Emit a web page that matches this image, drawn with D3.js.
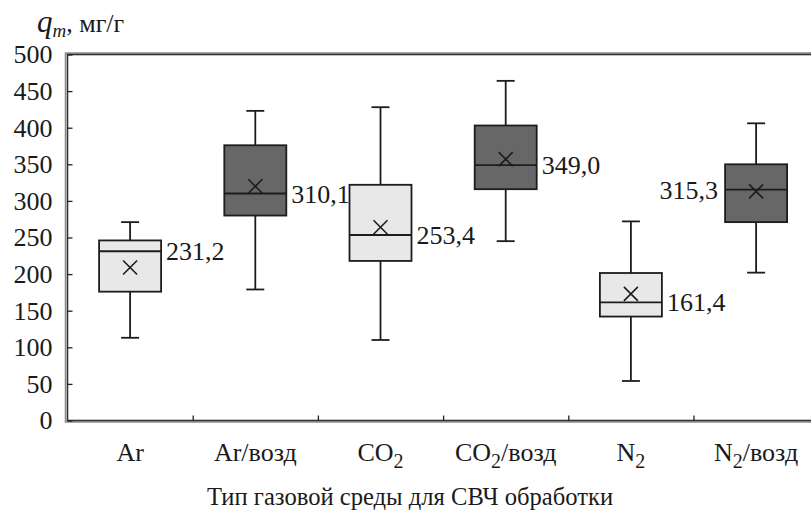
<!DOCTYPE html>
<html>
<head>
<meta charset="utf-8">
<script src="https://cdn.jsdelivr.net/npm/d3@7"></script>
<style>
  html, body { margin: 0; padding: 0; background: #fff; }
  svg { display: block; }
  text { font-family: "Liberation Serif", "Times New Roman", serif; fill: #1a1a1a; }
</style>
</head>
<body>
<svg id="chart" width="811" height="513"></svg>
<script>
// ---- data ----
const categories  = ["Ar", "Ar/возд", "CO2", "CO2/возд", "N2", "N2/возд"];
const whiskerLow  = [113, 179, 110, 245, 54, 202];
const q1          = [176, 280, 218, 316, 142, 271];
const median      = [231.2, 310.1, 253.4, 349.0, 161.4, 315.3];
const q3          = [246, 376, 322, 403, 201.5, 350];
const whiskerHigh = [271, 423, 428, 464, 272, 406];
const mean        = [209, 320, 264, 357, 173, 313];
const medianLabels = ["231,2", "310,1", "253,4", "349,0", "161,4", "315,3"];
const yTicks = [0, 50, 100, 150, 200, 250, 300, 350, 400, 450, 500];

// ---- layout ----
const svg = d3.select("#chart");
const pLeft = 67.5, pTop = 54.5, pBottom = 420.5;
const bandW = 125.2;
const pRight = pLeft + categories.length * bandW;

const x = d3.scaleBand().domain(categories).range([pLeft, pRight]).paddingInner(0).paddingOuter(0);
const y = d3.scaleLinear().domain([0, 500]).range([pBottom, pTop]);
const xb = d3.scaleLinear().domain([0, categories.length]).range([pLeft, pRight]);

const rows = categories.map((c, i) => ({
  c, lo: whiskerLow[i], q1: q1[i], med: median[i], q3: q3[i], hi: whiskerHigh[i],
  mean: mean[i], label: medianLabels[i], air: c.includes("/возд"), i
}));

// frame (double line look)
svg.append("rect")
  .attr("x", pLeft - 2).attr("y", pTop - 1.5)
  .attr("width", pRight - pLeft + 4).attr("height", pBottom - pTop + 3)
  .attr("fill", "none").attr("stroke", "#8a8a8a").attr("stroke-width", 1.5);
svg.append("rect")
  .attr("x", pLeft).attr("y", pTop)
  .attr("width", pRight - pLeft).attr("height", pBottom - pTop)
  .attr("fill", "none").attr("stroke", "#333").attr("stroke-width", 1.6);

// y axis
const yAxis = d3.axisLeft(y).tickValues(yTicks).tickSizeInner(-5).tickSizeOuter(0).tickPadding(15);
const gy = svg.append("g").attr("transform", `translate(${pLeft},0)`).call(yAxis)
  .attr("font-family", "Liberation Serif");
gy.select(".domain").remove();
gy.selectAll(".tick line").attr("stroke", "#222").attr("stroke-width", 1.3);
gy.selectAll(".tick text").attr("font-size", 26).attr("fill", "#1a1a1a");

// x axis boundary ticks
const xAxis = d3.axisBottom(xb).tickValues(d3.range(1, categories.length)).tickSizeInner(-5).tickSizeOuter(0).tickFormat("");
const gx = svg.append("g").attr("transform", `translate(0,${pBottom})`).call(xAxis);
gx.select(".domain").remove();
gx.selectAll(".tick line").attr("stroke", "#222").attr("stroke-width", 1.3);

// category labels with subscripts
function addRich(sel, str) {
  const parts = str.split(/(\d)/).filter(s => s.length);
  let shifted = false;
  parts.forEach(p => {
    if (/^\d$/.test(p)) {
      sel.append("tspan").attr("dy", 7).attr("font-size", 20).text(p);
      shifted = true;
    } else {
      const t = sel.append("tspan").text(p);
      if (shifted) { t.attr("dy", -7); shifted = false; }
    }
  });
}
svg.append("g").selectAll("text").data(rows).join("text")
  .attr("x", d => x(d.c) + x.bandwidth() / 2)
  .attr("y", 461)
  .attr("text-anchor", "middle")
  .attr("font-size", 26)
  .each(function(d) { addRich(d3.select(this), d.c); });

// boxes
const boxW = 62, capW = 18;
const g = svg.append("g").selectAll("g").data(rows).join("g")
  .attr("transform", d => `translate(${x(d.c) + x.bandwidth() / 2},0)`);
const stroke = "#1c1c1c", sw = 1.8;

g.append("line").attr("x1", 0).attr("x2", 0).attr("y1", d => y(d.hi)).attr("y2", d => y(d.q3))
  .attr("stroke", stroke).attr("stroke-width", sw);
g.append("line").attr("x1", 0).attr("x2", 0).attr("y1", d => y(d.q1)).attr("y2", d => y(d.lo))
  .attr("stroke", stroke).attr("stroke-width", sw);
g.append("line").attr("x1", -capW / 2).attr("x2", capW / 2).attr("y1", d => y(d.hi)).attr("y2", d => y(d.hi))
  .attr("stroke", stroke).attr("stroke-width", sw);
g.append("line").attr("x1", -capW / 2).attr("x2", capW / 2).attr("y1", d => y(d.lo)).attr("y2", d => y(d.lo))
  .attr("stroke", stroke).attr("stroke-width", sw);
g.append("rect").attr("x", -boxW / 2).attr("width", boxW)
  .attr("y", d => y(d.q3)).attr("height", d => y(d.q1) - y(d.q3))
  .attr("fill", d => d.air ? "#676767" : "#e8e8e8")
  .attr("stroke", stroke).attr("stroke-width", sw);
g.append("line").attr("x1", -boxW / 2).attr("x2", boxW / 2).attr("y1", d => y(d.med)).attr("y2", d => y(d.med))
  .attr("stroke", stroke).attr("stroke-width", sw);
// mean crosses
const cs = 7;
g.append("path")
  .attr("d", d => `M${-cs},${y(d.mean) - cs}L${cs},${y(d.mean) + cs}M${-cs},${y(d.mean) + cs}L${cs},${y(d.mean) - cs}`)
  .attr("stroke", stroke).attr("stroke-width", 1.6).attr("fill", "none");
// median labels
g.append("text")
  .attr("x", d => d.i === rows.length - 1 ? -boxW / 2 - 7 : boxW / 2 + 5)
  .attr("text-anchor", d => d.i === rows.length - 1 ? "end" : "start")
  .attr("y", d => y(d.med) + 9)
  .attr("font-size", 26)
  .text(d => d.label);

// y title
const yt = svg.append("text").attr("x", 37).attr("y", 32).attr("font-size", 26);
yt.append("tspan").attr("font-style", "italic").attr("font-size", 31).text("q");
yt.append("tspan").attr("font-style", "italic").attr("font-size", 19).attr("dy", 5).text("m");
yt.append("tspan").attr("dy", -5).text(", мг/г");

// x title
svg.append("text").attr("x", 410).attr("y", 505).attr("text-anchor", "middle").attr("font-size", 24.6)
  .text("Тип газовой среды для СВЧ обработки");
</script>
</body>
</html>
